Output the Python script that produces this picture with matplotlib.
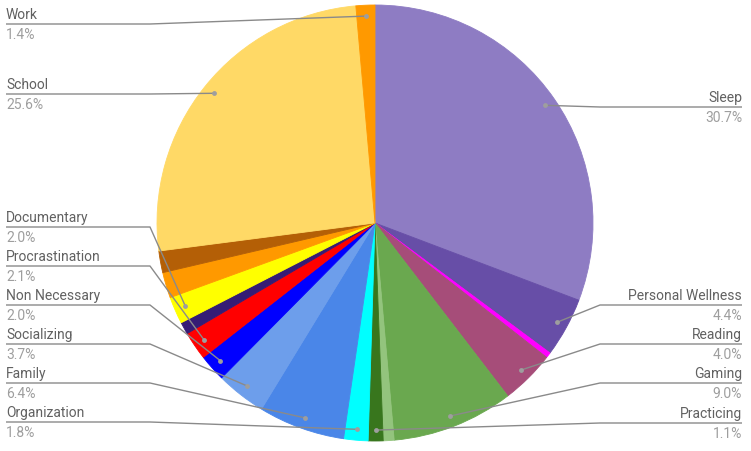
import numpy as np
import matplotlib
matplotlib.use("Agg")
import matplotlib.pyplot as plt

plt.rcParams['font.family'] = ['Roboto', 'DejaVu Sans']

# slices, clockwise from 12 o'clock
slices = ["Sleep", "Personal Wellness", "", "Reading", "Gaming", "", "Practicing",
          "Organization", "Family", "Socializing", "Non Necessary", "Procrastination",
          "", "Documentary", "", "", "School", "Work"]
values = [30.7, 4.4, 0.4, 4.0, 9.0, 0.8, 1.1,
          1.8, 6.4, 3.7, 2.0, 2.1,
          0.9, 2.0, 1.9, 1.6, 25.6, 1.4]
colors = ["#8e7cc3", "#674ea7", "#ff00ff", "#a64d79", "#6aa84f", "#93c47d", "#38761d",
          "#00ffff", "#4a86e8", "#6d9eeb", "#0000ff", "#ff0000",
          "#351c75", "#ffff00", "#ff9900", "#b45f06", "#ffd966", "#ff9900"]

# label placement (image pixels): side, y of the underline
label_pos = {
    "Work": ("L", 25), "School": ("L", 95), "Documentary": ("L", 228),
    "Procrastination": ("L", 267), "Non Necessary": ("L", 306),
    "Socializing": ("L", 345), "Family": ("L", 384), "Organization": ("L", 423),
    "Sleep": ("R", 108), "Personal Wellness": ("R", 306), "Reading": ("R", 345),
    "Gaming": ("R", 384), "Practicing": ("R", 424),
}

W, H = 751, 452
CX, CY, R = 375, H - 224, 218

fig = plt.figure(figsize=(W / 100, H / 100), dpi=100)
ax = fig.add_axes([0, 0, 1, 1])

wedges, _ = ax.pie(values, colors=colors, startangle=90, counterclock=False,
                   center=(CX, CY), radius=R, frame=True,
                   wedgeprops=dict(linewidth=0.6))
for w in wedges:
    w.set_edgecolor(w.get_facecolor())
ax.set_xlim(0, W)
ax.set_ylim(0, H)
ax.axis('off')

line_col = "#8a8a8a"
for w, name, v in zip(wedges, slices, values):
    if not name:
        continue
    mid = np.deg2rad((w.theta1 + w.theta2) / 2)
    dx = CX + 0.95 * R * np.cos(mid)
    dy = CY + 0.95 * R * np.sin(mid)
    side, ly = label_pos[name]
    ly = H - ly
    if side == "L":
        xs = [6, 150, dx]
        tx, ha = 6, "left"
    else:
        xs = [742, 600, dx]
        tx, ha = 742, "right"
    ax.plot(xs, [ly, ly, dy], color=line_col, lw=1, solid_capstyle='butt', zorder=3)
    ax.plot(dx, dy, 'o', ms=3.5, color="#9e9e9e", mec="none", zorder=4)
    ax.text(tx, ly + 3, name, ha=ha, va='bottom', fontsize=10, color="#616161")
    ax.text(tx, ly - 3, f"{v:.1f}%", ha=ha, va='top', fontsize=10, color="#9e9e9e")

fig.savefig("out.png", dpi=100)
